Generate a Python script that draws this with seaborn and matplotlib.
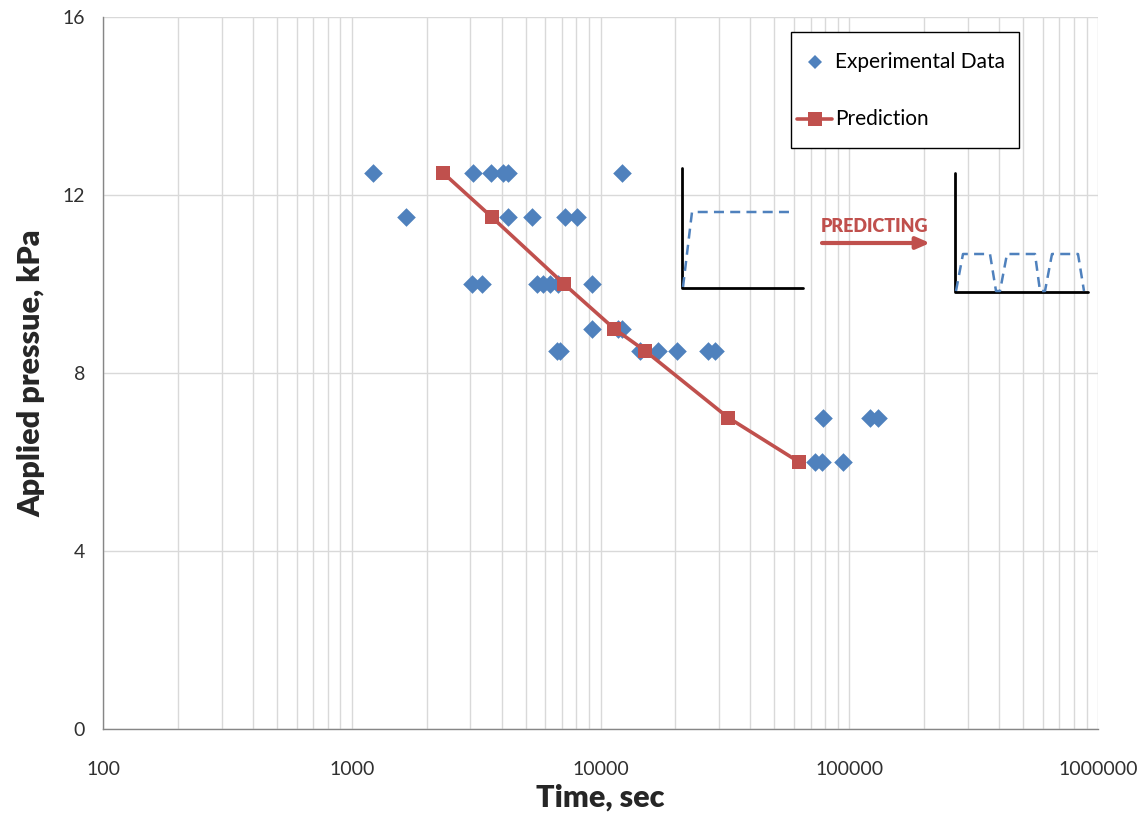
import matplotlib
matplotlib.use("Agg")
import matplotlib.pyplot as plt
import seaborn as sns
import pandas as pd
from matplotlib.lines import Line2D
from matplotlib.patches import Rectangle
from matplotlib.ticker import LogLocator, FixedLocator, NullFormatter

# ---------------- data ----------------
exp_time = [1217, 3072, 3630, 4055, 4247, 12200,
            1652, 4247, 5303, 7201, 8045,
            3030, 3339, 5555, 5872, 6240, 6747, 9244,
            9244, 11760, 12200,
            6683, 6873, 14400, 17000, 20300, 27050, 28800,
            78430, 121000, 131000,
            72850, 77700, 94400]
exp_pressure = [12.5, 12.5, 12.5, 12.5, 12.5, 12.5,
                11.5, 11.5, 11.5, 11.5, 11.5,
                10, 10, 10, 10, 10, 10, 10,
                9, 9, 9,
                8.5, 8.5, 8.5, 8.5, 8.5, 8.5, 8.5,
                7, 7, 7,
                6, 6, 6]
pred_time = [2327, 3662, 7134, 11330, 15100, 32550, 62800]
pred_pressure = [12.5, 11.5, 10, 9, 8.5, 7, 6]
x_ticks = [100, 1000, 10000, 100000, 1000000]
x_ticklabels = ["100", "1000", "10000", "100000", "1000000"]
y_ticks = [0, 4, 8, 12, 16]
legend_labels = ["Experimental Data", "Prediction"]

BLUE = "#4F81BD"
RED = "#C0504D"

sns.set_style("white")
plt.rcParams['font.family'] = ['Lato', 'DejaVu Sans']

fig = plt.figure(figsize=(11.47, 8.16), dpi=100)
L, R, T, B = 103, 1098, 17, 729
W, H = 1147, 816
ax = fig.add_axes([L / W, 1 - B / H, (R - L) / W, (B - T) / H])

df_exp = pd.DataFrame({"t": exp_time, "p": exp_pressure})
df_pred = pd.DataFrame({"t": pred_time, "p": pred_pressure})

sns.scatterplot(data=df_exp, x="t", y="p", marker="D", s=90, color=BLUE,
                edgecolor=BLUE, linewidth=0, ax=ax, zorder=3, legend=False)
sns.lineplot(data=df_pred, x="t", y="p", sort=False, color=RED, linewidth=2.6,
             marker="s", markersize=10.5, markeredgewidth=0, ax=ax, zorder=4,
             legend=False)

ax.set_xscale("log")
ax.set_xlim(100, 1000000)
ax.set_ylim(0, 16)
ax.xaxis.set_major_locator(FixedLocator(x_ticks))
ax.set_xticklabels(x_ticklabels)
ax.xaxis.set_minor_locator(LogLocator(base=10, subs=range(2, 10)))
ax.xaxis.set_minor_formatter(NullFormatter())
ax.set_yticks(y_ticks)

ax.grid(True, which="major", color="#d9d9d9", linewidth=1.0)
ax.grid(True, which="minor", axis="x", color="#d9d9d9", linewidth=1.0)
ax.set_axisbelow(True)
for s in ["top", "right"]:
    ax.spines[s].set_visible(False)
for s in ["left", "bottom"]:
    ax.spines[s].set_color("#868686")
    ax.spines[s].set_linewidth(1.0)
ax.tick_params(axis="both", which="major", direction="out", length=5,
               color="#868686", labelsize=14, labelcolor="#303030")
ax.tick_params(axis="x", which="major", pad=18)
ax.tick_params(axis="y", which="major", pad=8)
ax.tick_params(axis="x", which="minor", length=0)

ax.set_xlabel("Time, sec", fontsize=22, fontweight="heavy", labelpad=4)
ax.set_ylabel("Applied pressue, kPa", fontsize=22, fontweight="heavy", labelpad=12)


# ---- helpers: pixel positions -> axes fraction ----
def pa(xs, ys):
    return ([(x - L) / (R - L) for x in xs], [(B - y) / (B - T) for y in ys])


def draw(xs, ys, **kw):
    fx, fy = pa(xs, ys)
    ax.plot(fx, fy, transform=ax.transAxes, clip_on=False, **kw)


# legend (drawn as a boxed key)
bx, by = pa([791, 1019], [148, 32])
ax.add_patch(Rectangle((bx[0], by[0]), bx[1] - bx[0], by[1] - by[0],
                       transform=ax.transAxes, facecolor="white",
                       edgecolor="black", linewidth=1.0, zorder=6))
mx, my = pa([815], [62])
ax.plot(mx, my, transform=ax.transAxes, marker="D", markersize=7.5, color=BLUE,
        markeredgewidth=0, linestyle="none", zorder=7)
tx, ty = pa([835], [62])
ax.text(tx[0], ty[0], legend_labels[0], transform=ax.transAxes, fontsize=15,
        va="center", ha="left", color="black", zorder=7)
lx, ly = pa([797, 832], [119, 119])
ax.plot(lx, ly, transform=ax.transAxes, color=RED, linewidth=2.6, zorder=7)
sx, sy = pa([814.5], [119])
ax.plot(sx, sy, transform=ax.transAxes, marker="s", markersize=9.5, color=RED,
        markeredgewidth=0, linestyle="none", zorder=7)
tx, ty = pa([835], [119])
ax.text(tx[0], ty[0], legend_labels[1], transform=ax.transAxes, fontsize=15,
        va="center", ha="left", color="black", zorder=7)

# inset 1
draw([682, 682, 803], [168, 288, 288], color="black", linewidth=2, zorder=5)
draw([683, 692, 790], [287, 212, 212], color=BLUE, linewidth=1.8,
     linestyle=(0, (4, 2.5)), zorder=5)
# arrow + text
fx, fy = pa([822, 930], [243, 243])
ax.annotate("", xy=(fx[1], fy[1]), xytext=(fx[0], fy[0]), xycoords="axes fraction",
            arrowprops=dict(arrowstyle="-|>,head_length=0.8,head_width=0.35",
                            color=RED, linewidth=3, shrinkA=0, shrinkB=0))
tx, ty = pa([875], [227])
ax.text(tx[0], ty[0], "PREDICTING", transform=ax.transAxes, color=RED,
        fontsize=13, fontweight="heavy", ha="center", va="center")
# inset 2
draw([955, 955, 1088], [173, 292, 292], color="black", linewidth=2, zorder=5)
draw([956, 963, 990, 996, 1000, 1007, 1035, 1040, 1045, 1052, 1078, 1084],
     [291, 254, 254, 291, 291, 254, 254, 291, 291, 254, 254, 291],
     color=BLUE, linewidth=1.8, linestyle=(0, (4, 2.5)), zorder=5)

fig.savefig("out.png", dpi=100)
